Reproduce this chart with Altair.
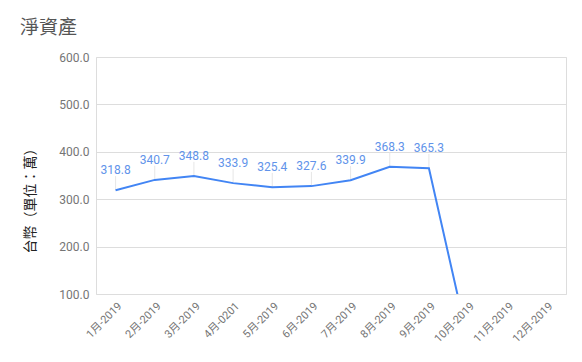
import altair as alt
import pandas as pd

months = ["1月-2019", "2月-2019", "3月-2019", "4月-0201", "5月-2019", "6月-2019",
          "7月-2019", "8月-2019", "9月-2019", "10月-2019", "11月-2019", "12月-2019"]
values = [318.8, 340.7, 348.8, 333.9, 325.4, 327.6, 339.9, 368.3, 365.3, 0.0, None, None]

df = pd.DataFrame({"month": months, "value": values})

FONT = "Roboto, 'Noto Sans CJK TC', sans-serif"

x = alt.X("month:N", sort=months,
          scale=alt.Scale(domain=months, type="point", padding=0.5),
          axis=alt.Axis(title=None, labelAngle=315, labelColor="#757575", labelFontSize=11,
                        labelFont=FONT, ticks=False, domain=False, grid=False, labelPadding=6))
y = alt.Y("value:Q", scale=alt.Scale(domain=[100, 600], nice=False),
          axis=alt.Axis(title="台幣（單位：萬）", values=[100, 200, 300, 400, 500, 600],
                        format=".1f", labelColor="#757575", labelFontSize=12, labelFont=FONT,
                        ticks=False, domain=False, gridColor="#dddddd", labelPadding=7,
                        titleAngle=270, titleX=-66, titleY=140, titleAlign="center",
                        titleBaseline="middle", titleFontSize=14, titleFontWeight="normal",
                        titleColor="#222222", titleFont=FONT))

base = alt.Chart(df)

stems = base.transform_filter("datum.value != null").transform_calculate(
    top="datum.value + 30").mark_rule(color="#e6e6e6", strokeWidth=1, clip=True).encode(
    x=x, y=y, y2="top:Q")

line = base.mark_line(color="#4285F4", strokeWidth=2, clip=True).encode(x=x, y=y)

labels = base.transform_filter("datum.value != null").mark_text(
    color="#6193ea", fontSize=12, font=FONT, dy=-16, baseline="alphabetic", clip=True
).encode(x=x, y=y, text=alt.Text("value:Q", format=".1f"))

chart = alt.layer(stems, line, labels).properties(
    width=470, height=237,
    title=alt.TitleParams("淨資產", anchor="start", frame="group", dx=-76, dy=20, offset=18,
                          baseline="alphabetic", fontSize=19, fontWeight="normal",
                          color="#555555", font=FONT),
    autosize=alt.AutoSizeParams(type="none"),
    padding={"left": 88, "top": 49, "right": 8, "bottom": 60},
).configure_view(stroke=None).configure(background="white")

chart.save("out.html", embed_options={"renderer": "svg", "actions": False})
